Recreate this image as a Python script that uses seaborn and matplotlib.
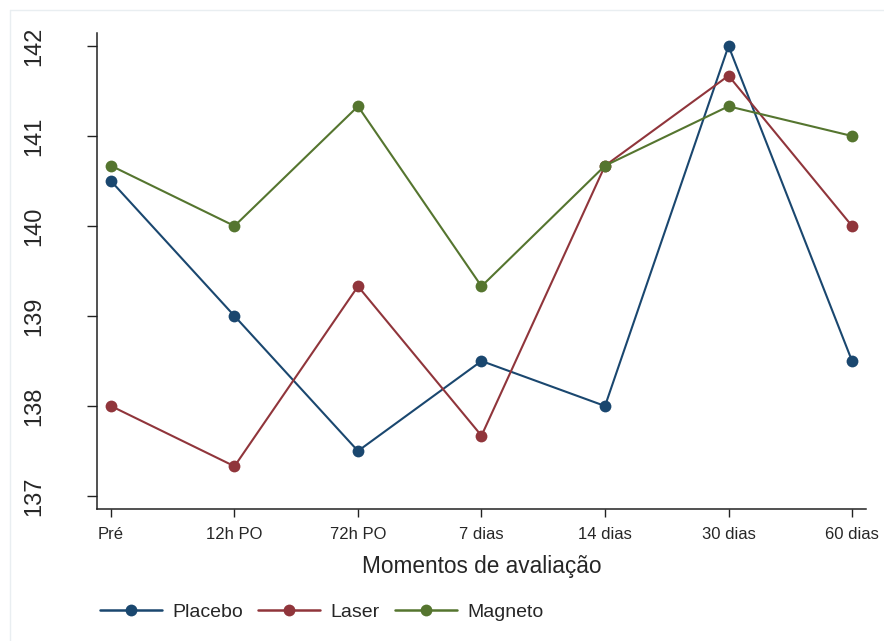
import numpy as np
import pandas as pd
import seaborn as sns
import matplotlib.pyplot as plt
from matplotlib.lines import Line2D

moments = ["Pré", "12h PO", "72h PO", "7 dias", "14 dias", "30 dias", "60 dias"]
placebo = [140.5, 139.0, 137.5, 138.5, 138.0, 142.0, 138.5]
laser = [138.0, 137.33, 139.33, 137.67, 140.67, 141.67, 140.0]
magneto = [140.67, 140.0, 141.33, 139.33, 140.67, 141.33, 141.0]
groups = ["Placebo", "Laser", "Magneto"]
colors = ["#1a476f", "#90353b", "#55752f"]
yticks = [137, 138, 139, 140, 141, 142]

sns.set_style("white")
plt.rcParams['font.family'] = ['Liberation Sans', 'DejaVu Sans']

pos = list(range(len(moments)))
df = pd.DataFrame({
    "pos": pos * 3,
    "valor": placebo + laser + magneto,
    "grupo": [g for g in groups for _ in moments],
})

fig = plt.figure(figsize=(8.84, 6.41), dpi=100)
ax = fig.add_axes([97 / 884, 1 - 509 / 641, (866 - 97) / 884, (509 - 33) / 641])

sns.lineplot(data=df, x="pos", y="valor", hue="grupo", hue_order=groups,
             palette=colors, marker="o", markersize=8.5, markeredgewidth=0,
             linewidth=1.5, sort=False, estimator=None, legend=False, ax=ax)

ax.set_xlim(-0.113, 6.113)
ax.set_ylim(137 - 13 / 90, 142 + 13 / 90)
ax.set_xticks(pos)
ax.set_xticklabels(moments, fontsize=12)
ax.set_yticks(yticks)
ax.set_yticklabels([str(v) for v in yticks], fontsize=17, rotation=90, va="center")
ax.tick_params(axis="y", direction="out", length=7, width=1, color="#222222", pad=30, left=True)
ax.tick_params(axis="x", direction="out", length=6, width=1, color="#222222", pad=7, bottom=True)
for s in ["top", "right"]:
    ax.spines[s].set_visible(False)
for s in ["left", "bottom"]:
    ax.spines[s].set_color("#222222")
    ax.spines[s].set_linewidth(1.1)
ax.set_xlabel("Momentos de avaliação", fontsize=16.3, labelpad=9)
ax.set_ylabel("")

handles = [Line2D([0], [0], color=c, lw=1.8, marker="o", markersize=8.5, markeredgewidth=0)
           for c in colors]
fig.legend(handles, groups, loc="center left", bbox_to_anchor=(100 / 884, 1 - 612 / 641),
           ncol=3, frameon=False, handlelength=3.2, handletextpad=0.5,
           columnspacing=0.8, borderpad=0, borderaxespad=0, fontsize=14)

# faint outer frame
fig.add_artist(Line2D([10 / 884, 10 / 884], [0, 1 - 10 / 641], transform=fig.transFigure,
                      color="#e9eef1", lw=1))
fig.add_artist(Line2D([10 / 884, 1], [1 - 10 / 641, 1 - 10 / 641], transform=fig.transFigure,
                      color="#e9eef1", lw=1))

fig.savefig("out.png", dpi=100)
